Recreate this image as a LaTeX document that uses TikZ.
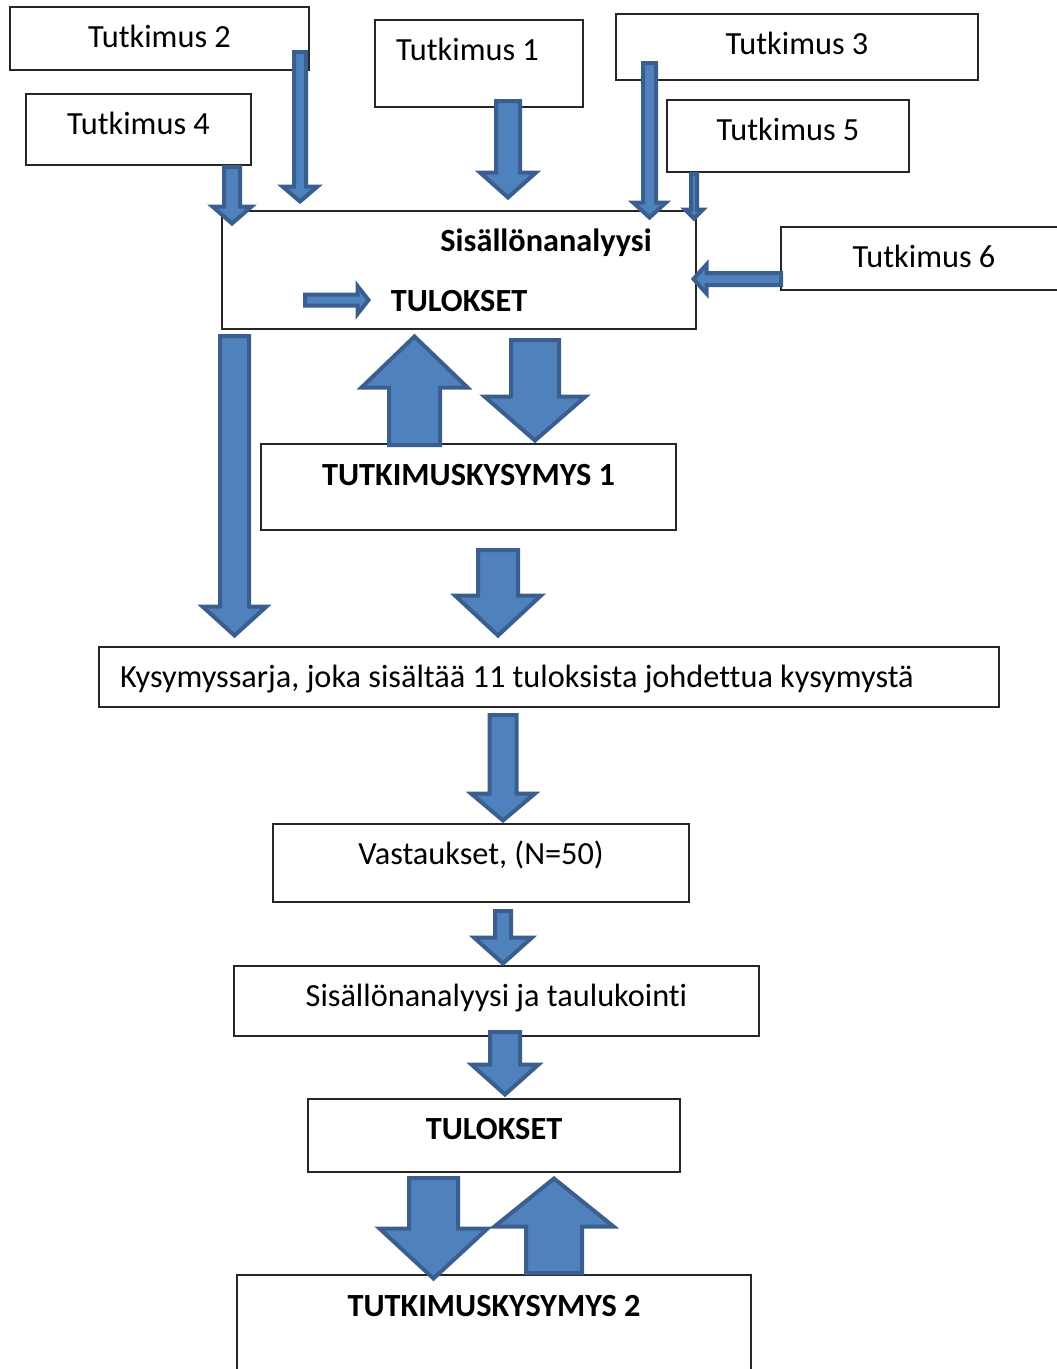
\documentclass[tikz,border=0pt]{standalone}
\usepackage{fontspec}
\setmainfont{Carlito}[Ligatures=NoCommon]
\usetikzlibrary{calc}
\definecolor{arrowfill}{HTML}{4F81BD}
\definecolor{arrowline}{HTML}{3A5F8E}
\tikzset{
    box/.style={draw=black!85, line width=1.4pt, fill=white, inner sep=0pt, outer sep=0pt, anchor=north west},
    txt/.style={inner sep=0pt, anchor=base, font=\fontsize{32.3}{38}\selectfont},
    btxt/.style={txt, font=\fontsize{32.3}{38}\selectfont\bfseries},
    blockarrow/.style={fill=arrowfill, draw=arrowline, line width=4pt, line join=miter},
}
% tail, tip, shaft half width, head half width, head length
\newcommand{\blockarrow}[5]{%
    \coordinate (ba-h) at ($(#2)!#5!(#1)$);
    \draw[blockarrow] ($(#1)!#3!90:(#2)$) -- ($(ba-h)!#3!-90:(#1)$) -- ($(ba-h)!#4!-90:(#1)$) -- (#2)
        -- ($(ba-h)!#4!90:(#1)$) -- ($(ba-h)!#3!90:(#1)$) -- ($(#1)!#3!-90:(#2)$) -- cycle;
}

\begin{document}
\begin{tikzpicture}[x=1pt,y=-1pt]
\useasboundingbox (0,0) rectangle (1057,1369);

% source studies
\node[box, minimum width=299pt, minimum height=63pt] (t2) at (10,7) {};
\node[box, minimum width=208pt, minimum height=87pt] (t1) at (375,20) {};
\node[box, minimum width=362pt, minimum height=66pt] (t3) at (616,14) {};
\node[box, minimum width=225pt, minimum height=71pt] (t4) at (26,94) {};
\node[box, minimum width=242pt, minimum height=72pt] (t5) at (667,100) {};
\node[box, minimum width=286pt, minimum height=63pt] (t6) at (781,227) {};
\node[txt] (t2txt) at ([yshift=-40pt]t2.north) {Tutkimus 2};
\node[txt, anchor=base west] (t1txt) at ([xshift=21pt,yshift=-40pt]t1.north west) {Tutkimus 1};
\node[txt] (t3txt) at ([yshift=-40pt]t3.north) {Tutkimus 3};
\node[txt] (t4txt) at ([yshift=-40pt]t4.north) {Tutkimus 4};
\node[txt] (t5txt) at ([yshift=-40pt]t5.north) {Tutkimus 5};
\node[txt] (t6txt) at ([yshift=-40pt]t6.north) {Tutkimus 6};

% analysis and the rest of the chain
\node[box, minimum width=474pt, minimum height=118pt] (ana) at (222,211) {};
\node[btxt] (anatxt) at (546,251) {Sisällönanalyysi};
\node[btxt] (anatul) at (459,311) {TULOKSET};
\node[box, minimum width=415pt, minimum height=86pt] (tk1) at (261,444) {};
\node[btxt] (tk1txt) at ([yshift=-41pt]tk1.north) {TUTKIMUSKYSYMYS 1};
\node[box, minimum width=900pt, minimum height=60pt] (kys) at (99,647) {};
\node[txt, anchor=base west] (kystxt) at ([xshift=21pt,yshift=-40pt]kys.north west) {Kysymyssarja, joka sisältää 11 tuloksista johdettua kysymystä};
\node[box, minimum width=416pt, minimum height=78pt] (vas) at (273,824) {};
\node[txt] (vastxt) at ([yshift=-40pt]vas.north) {Vastaukset, (N=50)};
\node[box, minimum width=525pt, minimum height=70pt] (sis) at (234,966) {};
\node[txt] (sistxt) at ([yshift=-40pt]sis.north) {Sisällönanalyysi ja taulukointi};
\node[box, minimum width=372pt, minimum height=73pt] (tul) at (308,1099) {};
\node[btxt] (tultxt) at ([yshift=-40pt]tul.north) {TULOKSET};
\node[box, minimum width=514pt, minimum height=120pt] (tk2) at (237,1275) {};
\node[btxt] (tk2txt) at ([yshift=-41pt]tk2.north) {TUTKIMUSKYSYMYS 2};

% block arrows
\coordinate (a2s) at (300,52);     \coordinate (a2e) at (300,201.5);
\coordinate (a4s) at (232,167);    \coordinate (a4e) at (232,223.5);
\coordinate (a1s) at (508,101);    \coordinate (a1e) at (508,197.5);
\coordinate (a3s) at (649.5,63);   \coordinate (a3e) at (649.5,217.5);
\coordinate (a5s) at (694,174);    \coordinate (a5e) at (694,218.5);
\coordinate (a6s) at (781,279);    \coordinate (a6e) at (693.5,279);
\coordinate (ais) at (305,300);    \coordinate (aie) at (368.5,300);
\coordinate (als) at (234.5,336);  \coordinate (ale) at (234.5,635.5);
\coordinate (aus) at (414.5,445);  \coordinate (aue) at (414.5,336.5);
\coordinate (ads) at (535,340);    \coordinate (ade) at (535,440.5);
\coordinate (aks) at (498,550);    \coordinate (ake) at (498,635.5);
\coordinate (avs) at (503,715);    \coordinate (ave) at (503,820.5);
\coordinate (ass) at (503,911);    \coordinate (ase) at (503,963.5);
\coordinate (ats) at (505,1032);   \coordinate (ate) at (505,1094.5);
\coordinate (aqs) at (433.5,1178); \coordinate (aqe) at (433.5,1278.5);
\coordinate (ars) at (554,1273);   \coordinate (are) at (554,1178.5);
\blockarrow{a2s}{a2e}{6pt}{17.5pt}{15pt}
\blockarrow{a4s}{a4e}{8pt}{19.5pt}{17pt}
\blockarrow{a1s}{a1e}{12pt}{28pt}{25pt}
\blockarrow{a3s}{a3e}{6.5pt}{16.5pt}{15pt}
\blockarrow{a5s}{a5e}{3pt}{9pt}{9pt}
\blockarrow{a6s}{a6e}{6pt}{14.5pt}{13pt}
\blockarrow{ais}{aie}{5.5pt}{14pt}{11pt}
\blockarrow{als}{ale}{14.5pt}{32pt}{29pt}
\blockarrow{aus}{aue}{25.5pt}{53pt}{51pt}
\blockarrow{ads}{ade}{24pt}{50.5pt}{44pt}
\blockarrow{aks}{ake}{20pt}{43pt}{40pt}
\blockarrow{avs}{ave}{13.5pt}{32pt}{27pt}
\blockarrow{ass}{ase}{8pt}{29pt}{26pt}
\blockarrow{ats}{ate}{15pt}{33.5pt}{30pt}
\blockarrow{aqs}{aqe}{24.5pt}{54pt}{50pt}
\blockarrow{ars}{are}{28pt}{59.5pt}{48pt}

\end{tikzpicture}
\end{document}
